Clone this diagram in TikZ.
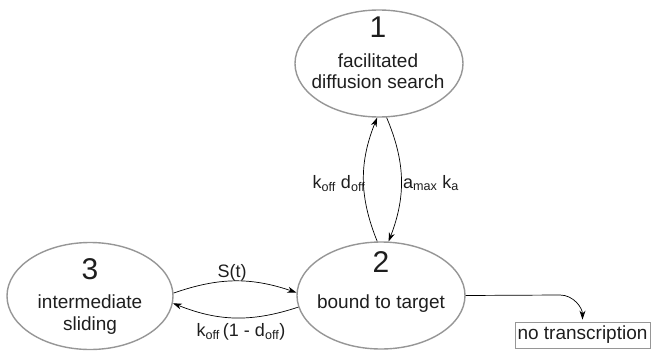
\documentclass[tikz,border=0pt]{standalone}
\usepackage{fontspec}
\setmainfont{Liberation Sans}
\usepackage{xcolor}
\usetikzlibrary{arrows.meta, shapes.geometric}
\definecolor{stgray}{RGB}{150, 150, 150}
\definecolor{txtblack}{RGB}{30, 30, 30}
\tikzset{
    statenode/.style={ellipse, draw=stgray, line width=1.4pt, minimum width=168pt, minimum height=107pt, inner sep=0pt},
    numlabel/.style={anchor=base, inner sep=0pt, text=txtblack, font=\fontsize{30}{32}\selectfont},
    desclabel/.style={anchor=base, inner sep=0pt, text=txtblack, font=\fontsize{19}{21.5}\selectfont},
    ratelabel/.style={anchor=base, inner sep=0pt, text=txtblack, font=\fontsize{18}{20}\selectfont},
    ratearrow/.style={-{Stealth[length=9pt, width=6pt]}, line width=0.7pt},
    endbox/.style={draw=stgray, line width=0.9pt, minimum width=135pt, minimum height=26pt, inner sep=0pt, text=txtblack, font=\fontsize{19}{21}\selectfont}
}

\begin{document}
\begin{tikzpicture}[x=1pt, y=1pt]
    \useasboundingbox (0,0) rectangle (651,-351);
    % states
    \node[statenode] (s1) at (379,-63.5) {};
    \node[statenode] (s2) at (381,-295.5) {};
    \node[statenode, minimum width=166pt] (s3) at (90,-296) {};
    \node[numlabel] (s1num) at (378,-37) {1};
    \node[desclabel] (s1txta) at (378,-67) {facilitated};
    \node[desclabel] (s1txtb) at (378,-88) {diffusion search};
    \node[numlabel] (s2num) at (381,-272) {2};
    \node[desclabel] (s2txt) at (381,-308) {bound to target};
    \node[numlabel] (s3num) at (90,-279) {3};
    \node[desclabel] (s3txta) at (90,-308) {intermediate};
    \node[desclabel] (s3txtb) at (90,-330) {sliding};
    \node[endbox] (notr) at (582.5,-335) {no transcription};
    % transitions
    \draw[ratearrow] (s2.94) to[bend left=22] (s1.-92);
    \draw[ratearrow] (s1.-82) to[bend left=22] (s2.82);
    \draw[ratearrow] (s3.2) to[bend left=19] (s2.178);
    \draw[ratearrow] (s2.188) to[bend left=20] (s3.-5);
    \coordinate (kink) at (560,-295);
    \draw[ratearrow, shorten >=2pt] (s2.east) -- (kink) to[out=0, in=90] (notr.north);
    % rates
    \node[ratelabel] (koffdoff) at (339,-188) {k\textsubscript{off} d\textsubscript{off}};
    \node[ratelabel] (amaxka) at (431,-188) {a\textsubscript{max} k\textsubscript{a}};
    \node[ratelabel] (slide) at (232,-277) {S(t)};
    \node[ratelabel] (koffback) at (241,-336) {k\textsubscript{off}\,(1 - d\textsubscript{off})};
\end{tikzpicture}
\end{document}
